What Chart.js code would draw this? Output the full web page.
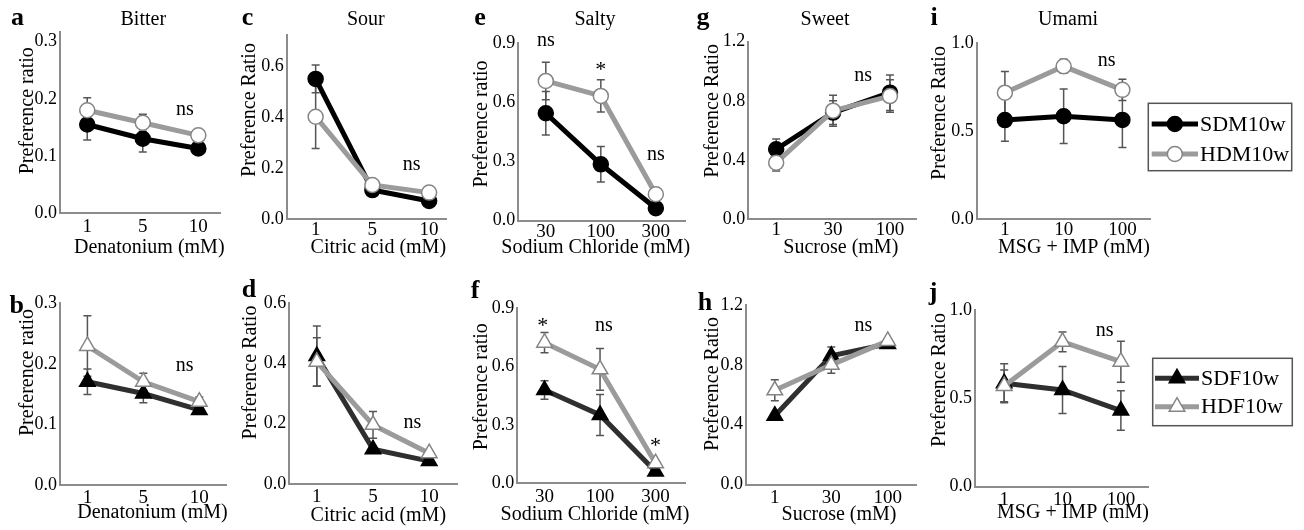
<!DOCTYPE html>
<html><head><meta charset="utf-8">
<script src="https://cdn.jsdelivr.net/npm/chart.js@4/dist/chart.umd.min.js"></script>
<style>
html,body{margin:0;padding:0;background:#fff;width:1304px;height:530px;overflow:hidden}
canvas{position:absolute;left:0;top:0}
</style></head><body>
<script>
// ---------- categories (x tick labels) ----------
const bitterConc = ['1', '5', '10'];
const sourConc   = ['1', '5', '10'];
const saltyConc  = ['30', '100', '300'];
const sweetConc  = ['1', '30', '100'];
const umamiConc  = ['1', '10', '100'];

// ---------- y tick values ----------
const bitterTicks = [0, 0.1, 0.2, 0.3];
const sourTicks   = [0, 0.2, 0.4, 0.6];
const saltyTicks  = [0, 0.3, 0.6, 0.9];
const sweetTicks  = [0, 0.4, 0.8, 1.2];
const umamiTicks  = [0, 0.5, 1.0];

// ---------- males (top row) ----------
const sdmBitter = [0.155, 0.130, 0.113];
const sdmBitterErr = [0.027, 0.023, 0.010];
const hdmBitter = [0.180, 0.158, 0.136];
const hdmBitterErr = [0.022, 0.015, 0.007];

const sdmSour = [0.552, 0.114, 0.071];
const sdmSourErr = [0.055, 0.010, 0.008];
const hdmSour = [0.403, 0.134, 0.104];
const hdmSourErr = [0.125, 0.010, 0.008];

const sdmSalty = [0.545, 0.286, 0.063];
const sdmSaltyErr = [0.110, 0.090, 0.008];
const hdmSalty = [0.709, 0.633, 0.134];
const hdmSaltyErr = [0.095, 0.082, 0.010];

const sdmSweet = [0.472, 0.72, 0.855];
const sdmSweetErr = [0.07, 0.08, 0.12];
const hdmSweet = [0.381, 0.733, 0.832];
const hdmSweetErr = [0.056, 0.105, 0.11];

const sdmUmami = [0.563, 0.585, 0.564];
const sdmUmamiErr = [0.12, 0.155, 0.157];
const hdmUmami = [0.719, 0.869, 0.735];
const hdmUmamiErr = [0.12, 0.04, 0.06];

// ---------- females (bottom row) ----------
const sdfBitter = [0.1705, 0.151, 0.124];
const sdfBitterErr = [0.021, 0.015, 0.005];
const hdfBitter = [0.2295, 0.1705, 0.1375];
const hdfBitterErr = [0.050, 0.014, 0.008];

const sdfSour = [0.424, 0.115, 0.076];
const sdfSourErr = [0.100, 0.010, 0.006];
const hdfSour = [0.405, 0.196, 0.102];
const hdfSourErr = [0.080, 0.044, 0.008];

const sdfSalty = [0.479, 0.351, 0.060];
const sdfSaltyErr = [0.047, 0.105, 0.006];
const hdfSalty = [0.722, 0.585, 0.103];
const hdfSaltyErr = [0.052, 0.107, 0.010];

const sdfSweet = [0.46, 0.86, 0.94];
const sdfSweetErr = [0.01, 0.06, 0.015];
const hdfSweet = [0.63, 0.80, 0.96];
const hdfSweetErr = [0.07, 0.056, 0.01];

const sdfUmami = [0.585, 0.547, 0.430];
const sdfUmamiErr = [0.110, 0.133, 0.112];
const hdfUmami = [0.570, 0.820, 0.707];
const hdfUmamiErr = [0.090, 0.056, 0.116];

// ---------- styles ----------
const SERIF = '"Liberation Serif", "DejaVu Serif", serif';
const STYLES = {
  SDM: {line:'#000000', fill:'#000000', stroke:'#000000', shape:'circle', r:7.5},
  HDM: {line:'#9b9b9b', fill:'#ffffff', stroke:'#858585', shape:'circle', r:7.5},
  SDF: {line:'#2f2f2f', fill:'#000000', stroke:'#000000', shape:'triangle', r:9},
  HDF: {line:'#9b9b9b', fill:'#ffffff', stroke:'#858585', shape:'triangle', r:9}
};

// ---------- panel layout ----------
const panels = [
 {letter:'a', lp:[17.5,25], title:'Bitter', tp:[143.3,25], ylab:'Preference ratio', yl:[33,110.8],
  xlab:'Denatonium (mM)', xl:[149.3,253.4], cats:bitterConc, yTicks:bitterTicks,
  area:[60,31.7,220,213], ymax:0.3175, xr:[-0.49,2.39], xpad:3,
  series:[['SDM10w',sdmBitter,sdmBitterErr,'SDM'],['HDM10w',hdmBitter,hdmBitterErr,'HDM']],
  notes:[['ns',1.76,0.18]]},
 {letter:'c', lp:[247.5,25], title:'Sour', tp:[365.8,25], ylab:'Preference Ratio', yl:[255,110],
  xlab:'Citric acid (mM)', xl:[378.3,253.4], cats:sourConc, yTicks:sourTicks,
  area:[286.7,35,446.7,219], ymax:0.725, xr:[-0.51,2.31], xpad:0,
  series:[['SDM10w',sdmSour,sdmSourErr,'SDM'],['HDM10w',hdmSour,hdmSourErr,'HDM']],
  notes:[['ns',1.69,0.213]]},
 {letter:'e', lp:[480,25], title:'Salty', tp:[595,25], ylab:'Preference ratio', yl:[487,124],
  xlab:'Sodium Chloride (mM)', xl:[595.8,253.4], cats:saltyConc, yTicks:saltyTicks,
  area:[518.3,43.3,685,220.7], ymax:0.9, xr:[-0.5,2.53], xpad:0,
  series:[['SDM10w',sdmSalty,sdmSaltyErr,'SDM'],['HDM10w',hdmSalty,hdmSaltyErr,'HDM']],
  notes:[['ns',0,0.909],['*',1,0.79],['ns',2,0.333]]},
 {letter:'g', lp:[703,25], title:'Sweet', tp:[825,25], ylab:'Preference Ratio', yl:[718,110.8],
  xlab:'Sucrose (mM)', xl:[840.8,253.4], cats:sweetConc, yTicks:sweetTicks,
  area:[748.3,41.7,916.7,219], ymax:1.2, xr:[-0.49,2.47], xpad:0,
  series:[['SDM10w',sdmSweet,sdmSweetErr,'SDM'],['HDM10w',hdmSweet,hdmSweetErr,'HDM']],
  notes:[['ns',1.53,0.963]]},
 {letter:'i', lp:[934,25], title:'Umami', tp:[1068,25], ylab:'Preference Ratio', yl:[945,113],
  xlab:'MSG + IMP (mM)', xl:[1074,253.4], cats:umamiConc, yTicks:umamiTicks,
  area:[976.7,43.3,1150,219], ymax:1.0, xr:[-0.48,2.47], xpad:0,
  series:[['SDM10w',sdmUmami,sdmUmamiErr,'SDM'],['HDM10w',hdmUmami,hdmUmamiErr,'HDM']],
  notes:[['ns',1.73,0.895]],
  legend:{box:[1148.3,103.3,1291.7,170.7], rows:[124,154], line:[1151.7,1198], tx:1200}},
 {letter:'b', lp:[16.7,313], title:null, ylab:'Preference ratio', yl:[33,372.5],
  xlab:'Denatonium (mM)', xl:[152.5,518.4], cats:bitterConc, yTicks:bitterTicks,
  area:[60,303.3,226.7,485], ymax:0.3, xr:[-0.49,2.49], xpad:2,
  series:[['SDF10w',sdfBitter,sdfBitterErr,'SDF'],['HDF10w',hdfBitter,hdfBitterErr,'HDF']],
  notes:[['ns',1.74,0.195]]},
 {letter:'d', lp:[249,297], title:null, ylab:'Preference Ratio', yl:[256,372.5],
  xlab:'Citric acid (mM)', xl:[378.3,521], cats:sourConc, yTicks:sourTicks,
  area:[289.3,303,457.3,484], ymax:0.6, xr:[-0.49,2.5], xpad:2,
  series:[['SDF10w',sdfSour,sdfSourErr,'SDF'],['HDF10w',hdfSour,hdfSourErr,'HDF']],
  notes:[['ns',1.7,0.201]]},
 {letter:'f', lp:[475,298], title:null, ylab:'Preference ratio', yl:[487,386.7],
  xlab:'Sodium Chloride (mM)', xl:[595,520], cats:saltyConc, yTicks:saltyTicks,
  area:[517.3,308,685,483.3], ymax:0.9, xr:[-0.49,2.53], xpad:2,
  series:[['SDF10w',sdfSalty,sdfSaltyErr,'SDF'],['HDF10w',hdfSalty,hdfSaltyErr,'HDF']],
  notes:[['*',-0.03,0.83],['ns',1.07,0.804],['*',2,0.214]]},
 {letter:'h', lp:[705,310], title:null, ylab:'Preference Ratio', yl:[718,384],
  xlab:'Sucrose (mM)', xl:[839,520], cats:sweetConc, yTicks:sweetTicks,
  area:[746,305,916,484.5], ymax:1.2, xr:[-0.51,2.5], xpad:2,
  series:[['SDF10w',sdfSweet,sdfSweetErr,'SDF'],['HDF10w',hdfSweet,hdfSweetErr,'HDF']],
  notes:[['ns',1.57,1.06]]},
 {letter:'j', lp:[933,300], title:null, ylab:'Preference Ratio', yl:[945,380],
  xlab:'MSG + IMP (mM)', xl:[1073,518.4], cats:umamiConc, yTicks:umamiTicks,
  area:[975,310,1148.3,486.5], ymax:1.0, xr:[-0.5,2.47], xpad:2,
  series:[['SDF10w',sdfUmami,sdfUmamiErr,'SDF'],['HDF10w',hdfUmami,hdfUmamiErr,'HDF']],
  notes:[['ns',1.72,0.881]],
  legend:{box:[1152.7,358.3,1292.3,425.7], rows:[378.3,406.7], line:[1155,1199], tx:1201}}
];

const W = 1304, H = 530, WY = 50, HX = 40;

function drawMarker(ctx, st, x, y) {
  ctx.save();
  ctx.fillStyle = st.fill; ctx.strokeStyle = st.stroke; ctx.lineWidth = 1.5;
  Chart.helpers.drawPoint(ctx, {pointStyle: st.shape, rotation: 0, radius: st.r, borderWidth: 1.5}, x, y);
  ctx.restore();
}

function makeOverlay(p) {
  return {
    id: 'overlay_' + p.letter,
    beforeDatasetsDraw(chart) {
      const {ctx, scales: {x, y}} = chart;
      ctx.save();
      ctx.strokeStyle = '#555555'; ctx.lineWidth = 1.5;
      chart.data.datasets.forEach(ds => {
        ds.errs.forEach((e, i) => {
          const v = ds.data[i].y;
          const px = x.getPixelForValue(i);
          const y1 = y.getPixelForValue(v + e), y2 = y.getPixelForValue(v - e);
          ctx.beginPath();
          ctx.moveTo(px, y1); ctx.lineTo(px, y2);
          ctx.moveTo(px - 4, y1); ctx.lineTo(px + 4, y1);
          ctx.moveTo(px - 4, y2); ctx.lineTo(px + 4, y2);
          ctx.stroke();
        });
      });
      ctx.restore();
    },
    afterDraw(chart) {
      const {ctx, scales: {x, y}} = chart;
      ctx.save();
      ctx.fillStyle = '#000';
      ctx.font = 'bold 26px ' + SERIF;
      ctx.textAlign = 'center'; ctx.textBaseline = 'alphabetic';
      ctx.fillText(p.letter, p.lp[0], p.lp[1]);
      if (p.title) {
        ctx.font = '20px ' + SERIF;
        ctx.fillText(p.title, p.tp[0], p.tp[1]);
      }
      ctx.font = '20px ' + SERIF;
      ctx.fillText(p.xlab, p.xl[0], p.xl[1]);
      ctx.save();
      ctx.translate(p.yl[0], p.yl[1]);
      ctx.rotate(-Math.PI / 2);
      ctx.fillText(p.ylab, 0, 0);
      ctx.restore();
      p.notes.forEach(([t, xv, yv]) => {
        const px = x.getPixelForValue(xv), py = y.getPixelForValue(yv);
        if (t === '*') { ctx.font = '22px ' + SERIF; ctx.fillText(t, px, py + 0.49 * 22); }
        else { ctx.font = '20px ' + SERIF; ctx.fillText(t, px, py + 0.23 * 20); }
      });
      if (p.legend) {
        const L = p.legend;
        ctx.strokeStyle = '#555'; ctx.lineWidth = 1.5;
        ctx.fillStyle = '#fff';
        ctx.fillRect(L.box[0], L.box[1], L.box[2] - L.box[0], L.box[3] - L.box[1]);
        ctx.strokeRect(L.box[0], L.box[1], L.box[2] - L.box[0], L.box[3] - L.box[1]);
        p.series.forEach((s, k) => {
          const st = STYLES[s[3]];
          const ry = L.rows[k];
          ctx.strokeStyle = st.line; ctx.lineWidth = 5;
          ctx.beginPath(); ctx.moveTo(L.line[0], ry); ctx.lineTo(L.line[1], ry); ctx.stroke();
          drawMarker(ctx, st, (L.line[0] + L.line[1]) / 2, ry);
          ctx.fillStyle = '#000';
          ctx.font = '22px ' + SERIF;
          ctx.textAlign = 'left'; ctx.textBaseline = 'middle';
          ctx.fillText(s[0], L.tx, ry + 1);
        });
      }
      ctx.restore();
    }
  };
}

function makeChart(p) {
  const c = document.createElement('canvas');
  c.width = W; c.height = H;
  document.body.appendChild(c);
  const [l, t, r, b] = p.area;
  const datasets = p.series.map(([label, vals, errs, kind]) => {
    const st = STYLES[kind];
    return {
      label, errs,
      data: vals.map((v, i) => ({x: i, y: v})),
      borderColor: st.line, borderWidth: 5,
      pointStyle: st.shape, pointRadius: st.r,
      pointBackgroundColor: st.fill, pointBorderColor: st.stroke, pointBorderWidth: 1.5,
      tension: 0, fill: false, clip: false,
      order: kind.startsWith('S') ? 2 : 1
    };
  });
  const axisFont = {family: SERIF, size: 19};
  new Chart(c, {
    type: 'line',
    data: {datasets},
    options: {
      responsive: false, animation: false, devicePixelRatio: 1,
      events: [],
      layout: {padding: {left: l - WY, top: t, right: W - r, bottom: H - b - HX}},
      plugins: {legend: {display: false}, tooltip: {enabled: false}, title: {display: false}},
      scales: {
        x: {
          type: 'linear', min: p.xr[0], max: p.xr[1],
          afterBuildTicks: s => { s.ticks = p.cats.map((_, i) => ({value: i})); },
          afterFit: s => { s.height = HX; },
          grid: {display: false, drawTicks: false},
          border: {display: true, color: '#8c8c8c', width: 2},
          ticks: {font: axisFont, color: '#000', padding: p.xpad, maxRotation: 0, autoSkip: false,
                  callback: v => p.cats[v]}
        },
        y: {
          type: 'linear', min: 0, max: p.ymax,
          afterBuildTicks: s => { s.ticks = p.yTicks.map(v => ({value: v})); },
          afterFit: s => { s.width = WY; },
          grid: {display: false, drawTicks: false},
          border: {display: true, color: '#8c8c8c', width: 2},
          ticks: {font: {family: SERIF, size: 18}, color: '#000', padding: 3,
                  callback: v => Number(v).toFixed(1)}
        }
      }
    },
    plugins: [makeOverlay(p)]
  });
}

panels.forEach(makeChart);
</script>
</body></html>
